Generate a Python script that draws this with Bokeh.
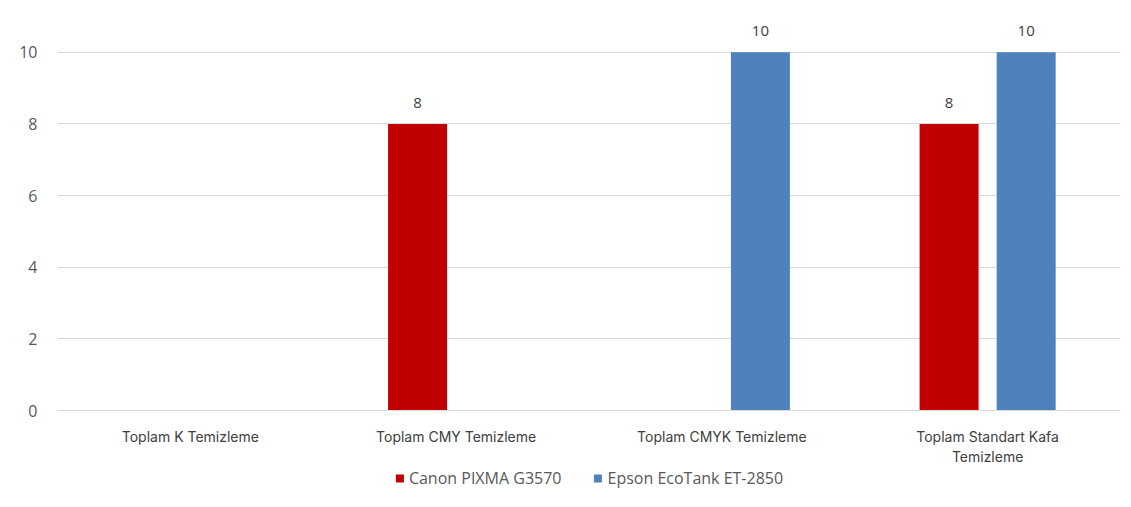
from bokeh.plotting import figure
from bokeh.layouts import column
from bokeh.models import ColumnDataSource, FactorRange, LabelSet, Legend, LegendItem, Range1d
from bokeh.core.properties import value
from bokeh.transform import dodge
from bokeh.embed import file_html
from bokeh.resources import INLINE

categories = ["Toplam K Temizleme", "Toplam CMY Temizleme", "Toplam CMYK Temizleme", "Toplam Standart Kafa\nTemizleme"]
canon = [0, 8, 0, 8]
epson = [0, 0, 10, 10]
series_names = ["Canon PIXMA G3570", "Epson EcoTank ET-2850"]
colors = ["#C00000", "#4F81BD"]
y_ticks = [0, 2, 4, 6, 8, 10]

src = ColumnDataSource(dict(cat=categories, canon=canon, epson=epson))

def label_src(vals):
    cats = [c for c, v in zip(categories, vals) if v]
    vs = [v for v in vals if v]
    return ColumnDataSource(dict(cat=cats, v=vs, t=[str(v) for v in vs]))

p = figure(width=1131, height=467, x_range=FactorRange(factors=categories),
           y_range=Range1d(0, 11.0), output_backend="svg", toolbar_location=None,
           min_border_left=57, min_border_right=11, min_border_top=16, min_border_bottom=57)
p.outline_line_color = None
p.background_fill_color = "white"
p.border_fill_color = "white"

off = 0.145
w = 0.222
r1 = p.vbar(x=dodge("cat", -off, range=p.x_range), top="canon", width=w, source=src,
            fill_color=colors[0], line_color=None)
r2 = p.vbar(x=dodge("cat", off, range=p.x_range), top="epson", width=w, source=src,
            fill_color=colors[1], line_color=None)

for vals, o in ((canon, -off), (epson, off)):
    ls = LabelSet(x=dodge("cat", o, range=p.x_range), y="v", text="t", source=label_src(vals),
                  text_align="center", text_baseline="middle", y_offset=21,
                  text_font_size="15px", text_color="#404040", text_font=value("Open Sans"))
    p.add_layout(ls)

p.yaxis.ticker = y_ticks
p.yaxis.axis_line_color = None
p.yaxis.major_tick_line_color = None
p.yaxis.minor_tick_line_color = None
p.yaxis.major_label_standoff = 14
p.yaxis.major_label_text_font_size = "16px"
p.yaxis.major_label_text_color = "#595959"
p.yaxis.major_label_text_font = "Open Sans"

p.xaxis.axis_line_color = "#d9d9d9"
p.xaxis.major_tick_line_color = None
p.xaxis.minor_tick_line_color = None
p.xaxis.major_label_standoff = 11
p.xaxis.major_label_text_font_size = "14px"
p.xaxis.major_label_text_color = "#404040"
p.xaxis.major_label_text_font = "Inter"

p.xgrid.grid_line_color = None
p.ygrid.grid_line_color = "#d9d9d9"
p.ygrid.grid_line_width = 1

# legend strip (separate figure to keep the main frame layout stable)
lf = figure(width=1131, height=40, x_range=Range1d(0, 1), y_range=Range1d(5, 6),
            output_backend="svg", toolbar_location=None,
            min_border_left=29, min_border_right=0, min_border_top=0, min_border_bottom=0)
lf.axis.visible = False
lf.grid.visible = False
lf.outline_line_color = None
lf.background_fill_color = "white"
lf.border_fill_color = "white"
# invisible proxy renderers (out of view) that only supply the legend swatches
lr = [lf.vbar(x=[0], top=[0], bottom=[0], width=0.0, fill_color=c, line_color=None) for c in colors]
legend = Legend(items=[LegendItem(label=n, renderers=[r]) for n, r in zip(series_names, lr)],
                orientation="horizontal", location="top",
                label_text_font_size="16px", label_text_color="#595959", label_text_font="Open Sans",
                glyph_width=10, glyph_height=10, spacing=31, label_standoff=5, label_height=20,
                border_line_color=None, background_fill_alpha=0, margin=0, padding=0)
lf.add_layout(legend, "center")

layout = column(p, lf, spacing=0)
open("out.html", "w").write(file_html(layout, INLINE))
